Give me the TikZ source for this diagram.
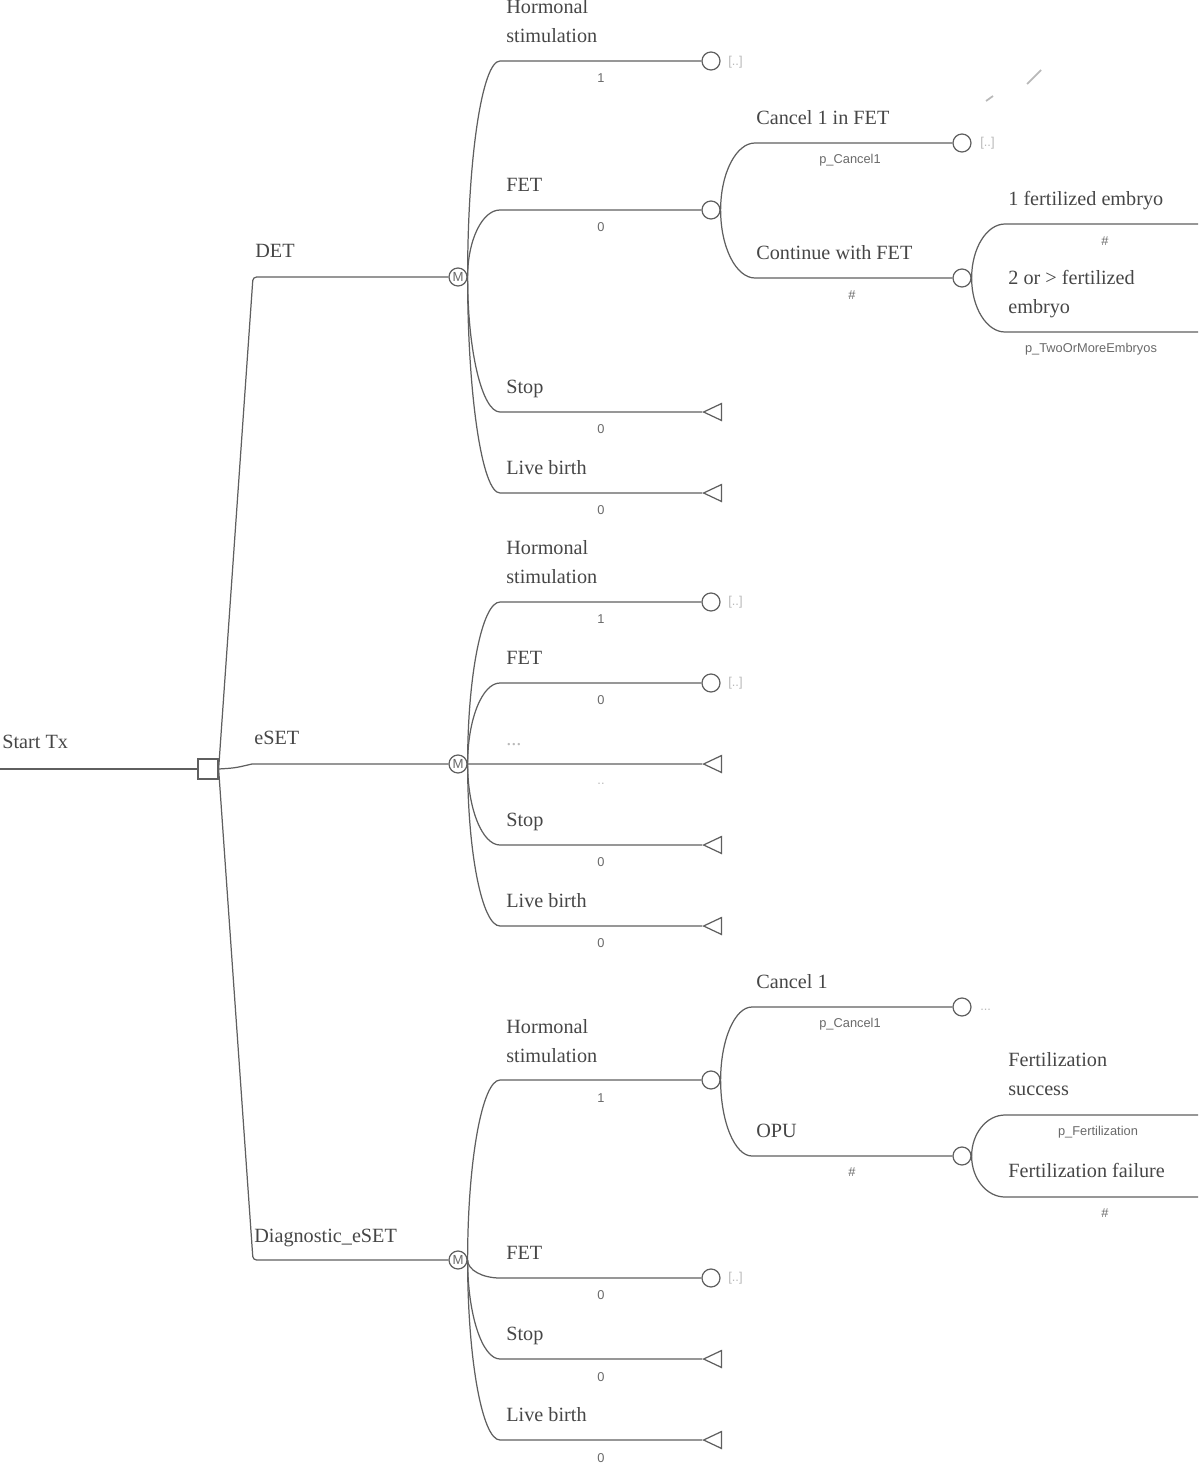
\documentclass[tikz,border=0pt]{standalone}
\usepackage{fontspec}
\setmainfont{Liberation Serif}
\setsansfont{Liberation Sans}
\usetikzlibrary{shapes.geometric,calc}

\definecolor{treeline}{RGB}{95,95,95}
\definecolor{labeltext}{RGB}{70,70,70}
\definecolor{probtext}{RGB}{105,105,105}
\definecolor{faintmark}{RGB}{185,185,185}

\begin{document}
\begin{tikzpicture}[
    x=0.02cm, y=-0.02cm,
    branch/.style={
        draw=treeline,
        line width=0.7pt
    },
    decision node/.style={
        rectangle,
        draw=treeline,
        line width=0.7pt,
        minimum size=0.4cm,
        inner sep=0pt
    },
    markov node/.style={
        circle,
        draw=treeline,
        line width=0.7pt,
        minimum size=0.36cm,
        inner sep=0pt,
        text=probtext,
        font=\sffamily\fontsize{7.5}{8}\selectfont
    },
    chance node/.style={
        circle,
        draw=treeline,
        line width=0.7pt,
        minimum size=0.36cm,
        inner sep=0pt
    },
    terminal node/.style={
        isosceles triangle,
        isosceles triangle stretches,
        shape border rotate=180,
        draw=treeline,
        line width=0.7pt,
        minimum width=0.34cm,
        minimum height=0.36cm,
        inner sep=0pt,
        anchor=apex
    },
    branch label/.style={
        anchor=base west,
        inner sep=0pt,
        align=left,
        text=labeltext,
        font=\fontsize{11.5}{16}\selectfont
    },
    prob label/.style={
        inner sep=0pt,
        text=probtext,
        font=\sffamily\fontsize{7.3}{8}\selectfont
    },
    more mark/.style={
        anchor=west,
        inner sep=0pt,
        text=faintmark,
        font=\sffamily\fontsize{7.3}{8}\selectfont
    }
]

\useasboundingbox (0,0) rectangle (1200,1464);

%% --- Racine : décision ---
\coordinate (start) at (0,769);
\node[decision node] (dec) at (208,769) {};
\node[branch label] (lStart) at (2,748) {Start Tx};
\draw[branch] (start) -- (dec.west);

%% --- Stratégies (noeuds de Markov) ---
\node[markov node] (mDET)  at (458,277)  {M};
\node[markov node] (mESET) at (458,764)  {M};
\node[markov node] (mDIAG) at (458,1260) {M};

\coordinate (bDET)  at (253,277);
\coordinate (bESET) at (252,764);
\coordinate (bDIAG) at (253,1260);

\draw[branch, rounded corners=2pt] (dec.east) -- (bDET) -- (mDET);
\draw[branch] (dec.east) .. controls (235,768) .. (bESET) -- (mESET);
\draw[branch, rounded corners=2pt] (dec.east) -- (bDIAG) -- (mDIAG);

\node[branch label] (lDET)  at (255,257)  {DET};
\node[branch label] (lESET) at (254,744)  {eSET};
\node[branch label] (lDIAG) at (254,1242) {Diagnostic\_eSET};

%% --- DET ---
\node[chance node]   (cDH) at (711,61)  {};
\node[chance node]   (cDF) at (711,210) {};
\node[terminal node] (tDS) at (702,412) {};
\node[terminal node] (tDL) at (702,493) {};

\foreach \dst/\y in {cDH/61, cDF/210, tDS/412, tDL/493}
    \draw[branch] (mDET.east)
        .. controls ($(mDET.east)!0.55!(mDET.east |- 0,\y)$) and ($(500,\y)!0.55!(mDET.east |- 0,\y)$)
        .. (500,\y) -- (\dst);

\node[branch label] (lDH) at (506,42)  {Hormonal\\stimulation};
\node[branch label] (lDF) at (506,191) {FET};
\node[branch label] (lDS) at (506,393) {Stop};
\node[branch label] (lDL) at (506,474) {Live birth};
\node[prob label] (pDH) at (601,78)  {1};
\node[prob label] (pDF) at (601,227) {0};
\node[prob label] (pDS) at (601,429) {0};
\node[prob label] (pDL) at (601,510) {0};
\node[more mark] (xDH) at (728,62) {[..]};

%% --- DET : FET ---
\node[chance node] (cDFC) at (962,143) {};
\node[chance node] (cDFN) at (962,278) {};

\foreach \dst/\y in {cDFC/143, cDFN/278}
    \draw[branch] (cDF.east)
        .. controls ($(cDF.east)!0.55!(cDF.east |- 0,\y)$) and ($(755,\y)!0.55!(cDF.east |- 0,\y)$)
        .. (755,\y) -- (\dst);

\node[branch label] (lDFC) at (756,124) {Cancel 1 in FET};
\node[branch label] (lDFN) at (756,259) {Continue with FET};
\node[prob label] (pDFC) at (850,160) {p\_Cancel1};
\node[prob label] (pDFN) at (852,295) {\#};
\node[more mark] (xDFC) at (980,143) {[..]};

\coordinate (eDF1) at (1198,224);
\coordinate (eDF2) at (1198,332);

\foreach \dst/\y in {eDF1/224, eDF2/332}
    \draw[branch] (cDFN.east)
        .. controls ($(cDFN.east)!0.55!(cDFN.east |- 0,\y)$) and ($(1005,\y)!0.55!(cDFN.east |- 0,\y)$)
        .. (1005,\y) -- (\dst);

\node[branch label] (lDF1) at (1008,205) {1 fertilized embryo};
\node[branch label] (lDF2) at (1008,313) {2 or > fertilized\\embryo};
\node[prob label] (pDF1) at (1105,241) {\#};
\node[prob label] (pDF2) at (1091,349) {p\_TwoOrMoreEmbryos};

%% traits parasites
\draw[faintmark, line width=1pt] (986,101) -- (993,96);
\draw[faintmark, line width=1pt] (1027,84) -- (1041,70);

%% --- eSET ---
\node[chance node]   (cEH) at (711,602) {};
\node[chance node]   (cEF) at (711,683) {};
\node[terminal node] (tED) at (702,764) {};
\node[terminal node] (tES) at (702,845) {};
\node[terminal node] (tEL) at (702,926) {};

\foreach \dst/\y in {cEH/602, cEF/683, tED/764, tES/845, tEL/926}
    \draw[branch] (mESET.east)
        .. controls ($(mESET.east)!0.55!(mESET.east |- 0,\y)$) and ($(500,\y)!0.55!(mESET.east |- 0,\y)$)
        .. (500,\y) -- (\dst);

\node[branch label] (lEH) at (506,583) {Hormonal\\stimulation};
\node[branch label] (lEF) at (506,664) {FET};
\node[branch label, text=faintmark] (lED) at (506,745) {...};
\node[branch label] (lES) at (506,826) {Stop};
\node[branch label] (lEL) at (506,907) {Live birth};
\node[prob label] (pEH) at (601,619) {1};
\node[prob label] (pEF) at (601,700) {0};
\node[prob label, text=faintmark] (pED) at (601,784) {..};
\node[prob label] (pES) at (601,862) {0};
\node[prob label] (pEL) at (601,943) {0};
\node[more mark] (xEH) at (728,602) {[..]};
\node[more mark] (xEF) at (728,683) {[..]};

%% --- Diagnostic_eSET ---
\node[chance node]   (cGH) at (711,1080) {};
\node[chance node]   (cGF) at (711,1278) {};
\node[terminal node] (tGS) at (702,1359) {};
\node[terminal node] (tGL) at (702,1440) {};

\foreach \dst/\y in {cGH/1080, cGF/1278, tGS/1359, tGL/1440}
    \draw[branch] (mDIAG.east)
        .. controls ($(mDIAG.east)!0.55!(mDIAG.east |- 0,\y)$) and ($(500,\y)!0.55!(mDIAG.east |- 0,\y)$)
        .. (500,\y) -- (\dst);

\node[branch label] (lGH) at (506,1062) {Hormonal\\stimulation};
\node[branch label] (lGF) at (506,1259) {FET};
\node[branch label] (lGS) at (506,1340) {Stop};
\node[branch label] (lGL) at (506,1421) {Live birth};
\node[prob label] (pGH) at (601,1098) {1};
\node[prob label] (pGF) at (601,1295) {0};
\node[prob label] (pGS) at (601,1377) {0};
\node[prob label] (pGL) at (601,1458) {0};
\node[more mark] (xGF) at (728,1278) {[..]};

%% --- Diagnostic_eSET : stimulation ---
\node[chance node] (cGHC) at (962,1007) {};
\node[chance node] (cGHO) at (962,1156) {};

\foreach \dst/\y in {cGHC/1007, cGHO/1156}
    \draw[branch] (cGH.east)
        .. controls ($(cGH.east)!0.55!(cGH.east |- 0,\y)$) and ($(752,\y)!0.55!(cGH.east |- 0,\y)$)
        .. (752,\y) -- (\dst);

\node[branch label] (lGHC) at (756,988)  {Cancel 1};
\node[branch label] (lGHO) at (756,1137) {OPU};
\node[prob label] (pGHC) at (850,1024) {p\_Cancel1};
\node[prob label] (pGHO) at (852,1172) {\#};
\node[more mark] (xGHC) at (980,1010) {...};

\coordinate (eGS) at (1198,1115);
\coordinate (eGF) at (1198,1197);

\foreach \dst/\y in {eGS/1115, eGF/1197}
    \draw[branch] (cGHO.east)
        .. controls ($(cGHO.east)!0.55!(cGHO.east |- 0,\y)$) and ($(1005,\y)!0.55!(cGHO.east |- 0,\y)$)
        .. (1005,\y) -- (\dst);

\node[branch label] (lGS2) at (1008,1095) {Fertilization\\success};
\node[branch label] (lGF2) at (1008,1177) {Fertilization failure};
\node[prob label] (pGS2) at (1098,1132) {p\_Fertilization};
\node[prob label] (pGF2) at (1105,1213) {\#};

\end{tikzpicture}
\end{document}
